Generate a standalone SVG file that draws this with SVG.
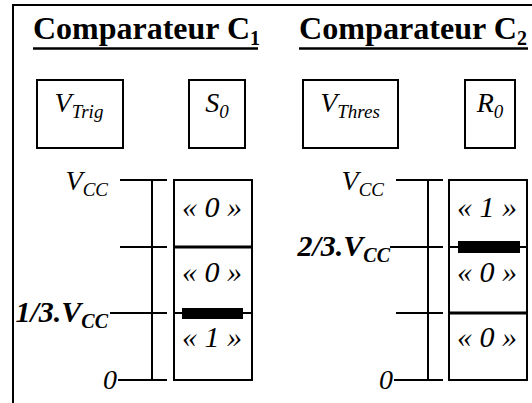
<svg xmlns="http://www.w3.org/2000/svg" width="532" height="403" viewBox="0 0 532 403">
<style>
.ln{stroke:#000;stroke-width:2;fill:none}
.box{stroke:#000;stroke-width:2;fill:#fff}
.title{font-family:"Liberation Serif","Times New Roman",serif;font-weight:bold;font-size:31px}
.it{font-family:"Liberation Serif","Times New Roman",serif;font-style:italic;font-size:28px}
.bi{font-family:"Liberation Serif","Times New Roman",serif;font-style:italic;font-weight:bold;font-size:30px}
.cell{font-family:"Liberation Serif","Times New Roman",serif;font-style:italic;font-size:30px;text-anchor:middle}
.sub{font-size:19px}
.bsub{font-size:20px}
</style>
<rect width="532" height="403" fill="#fff"/>
<g id="frame">
<line class="ln" x1="13" y1="5" x2="532" y2="5"/>
<line class="ln" x1="13" y1="4" x2="13" y2="403"/>
</g>
<g id="title1">
<text class="title" x="33" y="39"><tspan textLength="217" lengthAdjust="spacingAndGlyphs">Comparateur C</tspan><tspan class="bsub" dy="6">1</tspan></text>
<line x1="33" y1="48.5" x2="258" y2="48.5" stroke="#000" stroke-width="2.5"/>
</g>
<g id="title2">
<text class="title" x="299" y="39"><tspan textLength="218" lengthAdjust="spacingAndGlyphs">Comparateur C</tspan><tspan class="bsub" dy="6">2</tspan></text>
<line x1="299" y1="48.5" x2="528" y2="48.5" stroke="#000" stroke-width="2.5"/>
</g>
<g id="vtrig">
<rect class="box" x="37" y="80" width="86" height="68"/>
<text class="it" x="79" y="112" text-anchor="middle">V<tspan class="sub" dy="6">Trig</tspan></text>
</g>
<g id="s0">
<rect class="box" x="189" y="80" width="56" height="68"/>
<text class="it" x="217" y="112" text-anchor="middle">S<tspan class="sub" dy="6">0</tspan></text>
</g>
<g id="vthres">
<rect class="box" x="303" y="80" width="95" height="68"/>
<text class="it" x="350" y="112" text-anchor="middle">V<tspan class="sub" dy="6">Thres</tspan></text>
</g>
<g id="r0">
<rect class="box" x="465" y="80" width="50" height="68"/>
<text class="it" x="490" y="112" text-anchor="middle">R<tspan class="sub" dy="6">0</tspan></text>
</g>
<g id="scale1">
<line class="ln" x1="152" y1="180" x2="152" y2="380"/>
<line class="ln" x1="120" y1="180" x2="167" y2="180"/>
<line class="ln" x1="120" y1="247" x2="167" y2="247"/>
<line class="ln" x1="110" y1="313" x2="167" y2="313"/>
<line class="ln" x1="118" y1="380" x2="167" y2="380"/>
<text class="it" x="108" y="190" text-anchor="end">V<tspan class="sub" dy="6">CC</tspan></text>
<text class="bi" x="108" y="322" text-anchor="end">1/3.V<tspan class="bsub" dy="6">CC</tspan></text>
<text class="it" x="117" y="389" text-anchor="end" font-size="29">0</text>
</g>
<g id="states1">
<rect class="box" x="174" y="180" width="78" height="200"/>
<line x1="174" y1="247" x2="252" y2="247" stroke="#000" stroke-width="3"/>
<line class="ln" x1="174" y1="313" x2="252" y2="313"/>
<rect x="182" y="308" width="61" height="11" fill="#000"/>
<text class="cell" x="212" y="217">« 0 »</text>
<text class="cell" x="212" y="282">« 0 »</text>
<text class="cell" x="212" y="347">« 1 »</text>
</g>
<g id="scale2">
<line class="ln" x1="428" y1="180" x2="428" y2="380"/>
<line class="ln" x1="396" y1="180" x2="443" y2="180"/>
<line class="ln" x1="390" y1="247" x2="443" y2="247"/>
<line class="ln" x1="396" y1="313" x2="443" y2="313"/>
<line class="ln" x1="394" y1="380" x2="443" y2="380"/>
<text class="it" x="384" y="190" text-anchor="end">V<tspan class="sub" dy="6">CC</tspan></text>
<text class="bi" x="390" y="256" text-anchor="end" font-size="31">2/3.V<tspan class="bsub" dy="6">CC</tspan></text>
<text class="it" x="393" y="389" text-anchor="end" font-size="29">0</text>
</g>
<g id="states2">
<rect class="box" x="449" y="180" width="78" height="200"/>
<line class="ln" x1="449" y1="247" x2="527" y2="247"/>
<line x1="449" y1="313" x2="527" y2="313" stroke="#000" stroke-width="3"/>
<rect x="458" y="241" width="62" height="12" fill="#000"/>
<text class="cell" x="487" y="217">« 1 »</text>
<text class="cell" x="487" y="282">« 0 »</text>
<text class="cell" x="487" y="347">« 0 »</text>
</g>
</svg>
